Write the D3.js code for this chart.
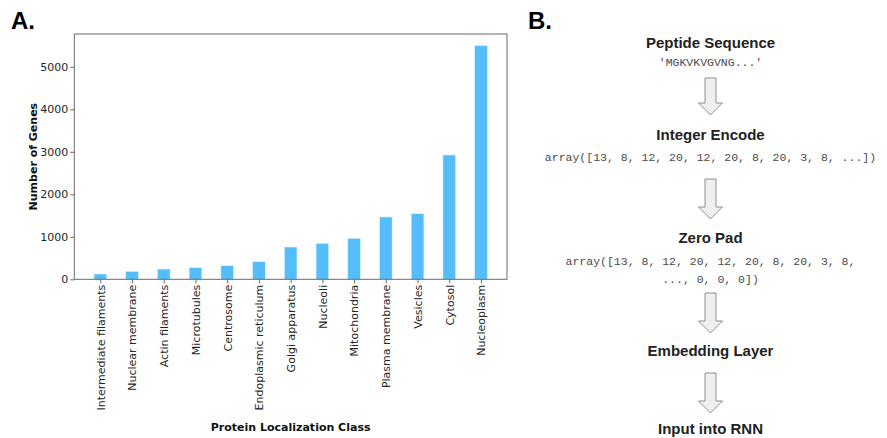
<!DOCTYPE html>
<html>
<head>
<meta charset="utf-8">
<script src="https://cdn.jsdelivr.net/npm/d3@7"></script>
<style>
  html, body { margin: 0; padding: 0; background: #fff; }
  svg { display: block; }
</style>
</head>
<body>
<svg id="fig" width="887" height="438"></svg>
<script>
// Gene counts per protein localization class
const categories = [
  "Intermediate filaments", "Nuclear membrane", "Actin filaments", "Microtubules",
  "Centrosome", "Endoplasmic reticulum", "Golgi apparatus", "Nucleoli",
  "Mitochondria", "Plasma membrane", "Vesicles", "Cytosol", "Nucleoplasm"
];
const geneCounts = [125, 188, 242, 273, 320, 414, 760, 847, 965, 1466, 1544, 2925, 5497];
const yTicks = [0, 1000, 2000, 3000, 4000, 5000];

// Preprocessing pipeline steps
const stepTitles = ["Peptide Sequence", "Integer Encode", "Zero Pad", "Embedding Layer", "Input into RNN"];
const stepDetails = [
  ["'MGKVKVGVNG...'"],
  ["array([13, 8, 12, 20, 12, 20, 8, 20, 3, 8, ...])"],
  ["array([13, 8, 12, 20, 12, 20, 8, 20, 3, 8,", "..., 0, 0, 0])"],
  [],
  []
];

const svg = d3.select("#fig");

// ---------- Panel A: bar chart ----------
const plot = { left: 74.3, right: 507, top: 34, bottom: 279.3 };
const barWidth = 0.4;
const n = categories.length;
const pad = (n - 1 + barWidth) * 0.05;

const x = d3.scaleLinear()
  .domain([-barWidth / 2 - pad, n - 1 + barWidth / 2 + pad])
  .range([plot.left, plot.right]);
const y = d3.scaleLinear()
  .domain([0, d3.max(geneCounts) * 1.05])
  .range([plot.bottom, plot.top]);

const gA = svg.append("g");

gA.selectAll("rect.bar")
  .data(geneCounts)
  .join("rect")
  .attr("class", "bar")
  .attr("x", (d, i) => x(i - barWidth / 2))
  .attr("width", (d, i) => x(i + barWidth / 2) - x(i - barWidth / 2))
  .attr("y", d => y(d))
  .attr("height", d => y(0) - y(d))
  .attr("fill", "#55bdf9")
  .attr("stroke", "#dff2fe")
  .attr("stroke-width", 0.6);

// frame
gA.append("rect")
  .attr("x", plot.left).attr("y", plot.top)
  .attr("width", plot.right - plot.left).attr("height", plot.bottom - plot.top)
  .attr("fill", "none").attr("stroke", "#6b6b6b").attr("stroke-width", 1);

const yAxis = d3.axisLeft(y).tickValues(yTicks).tickSize(4).tickPadding(2).tickFormat(d3.format("d"));
const gy = gA.append("g").attr("transform", `translate(${plot.left},0)`).call(yAxis);
gy.select(".domain").remove();
gy.selectAll("line").attr("stroke", "#6b6b6b");
gy.selectAll("text")
  .attr("font-family", "DejaVu Sans").attr("font-size", 11).attr("fill", "#262626");

const xAxis = d3.axisBottom(x).tickValues(d3.range(n)).tickSize(4).tickFormat(i => categories[i]);
const gx = gA.append("g").attr("transform", `translate(0,${plot.bottom})`).call(xAxis);
gx.select(".domain").remove();
gx.selectAll("line").attr("stroke", "#6b6b6b");
gx.selectAll("text")
  .attr("font-family", "DejaVu Sans").attr("font-size", 11).attr("fill", "#262626")
  .attr("transform", "rotate(-90)")
  .attr("text-anchor", "end")
  .attr("x", -5.5).attr("y", 0).attr("dy", "0.35em");

gA.append("text")
  .attr("transform", `translate(36.5,${(plot.top + plot.bottom) / 2}) rotate(-90)`)
  .attr("text-anchor", "middle")
  .attr("font-family", "DejaVu Sans").attr("font-weight", "bold").attr("font-size", 11)
  .attr("fill", "#111")
  .text("Number of Genes");

gA.append("text")
  .attr("x", (plot.left + plot.right) / 2).attr("y", 431)
  .attr("text-anchor", "middle")
  .attr("font-family", "DejaVu Sans").attr("font-weight", "bold").attr("font-size", 11)
  .attr("fill", "#111")
  .text("Protein Localization Class");

// panel letters
svg.append("text").attr("x", 11).attr("y", 29)
  .attr("font-family", "Liberation Sans, Arial, sans-serif").attr("font-weight", "bold")
  .attr("font-size", 24).attr("fill", "#000").text("A.");
svg.append("text").attr("x", 528).attr("y", 29)
  .attr("font-family", "Liberation Sans, Arial, sans-serif").attr("font-weight", "bold")
  .attr("font-size", 24).attr("fill", "#000").text("B.");

// ---------- Panel B: pipeline ----------
const cx = 710.5;
const titleBaselines = [48, 140, 243, 356, 434];
const detailBaselines = [[66], [161], [265, 283], [], []];
const arrowSpans = [[78, 115], [179, 219], [293, 333], [373, 413]];

const gB = svg.append("g");
stepTitles.forEach((t, i) => {
  gB.append("text")
    .attr("x", cx).attr("y", titleBaselines[i])
    .attr("text-anchor", "middle")
    .attr("font-family", "Liberation Sans, Arial, sans-serif").attr("font-weight", "bold")
    .attr("font-size", 15).attr("fill", "#222")
    .text(t);
  stepDetails[i].forEach((line, j) => {
    gB.append("text")
      .attr("x", cx).attr("y", detailBaselines[i][j])
      .attr("text-anchor", "middle")
      .attr("font-family", "Liberation Mono, Courier New, monospace")
      .attr("font-size", 11.5).attr("fill", "#4a4a4a")
      .attr("xml:space", "preserve")
      .text(line);
  });
});

// block arrows between steps
const shaftHalf = 5.5, headHalf = 12, headLen = 12;
arrowSpans.forEach(([top, tip]) => {
  const hs = tip - headLen;
  const pts = [
    [cx - shaftHalf, top], [cx + shaftHalf, top], [cx + shaftHalf, hs],
    [cx + headHalf, hs], [cx, tip], [cx - headHalf, hs], [cx - shaftHalf, hs]
  ];
  gB.append("path")
    .attr("d", d3.line()(pts) + "Z")
    .attr("fill", "#efefef").attr("stroke", "#8f8f8f").attr("stroke-width", 1)
    .attr("stroke-linejoin", "miter");
});
</script>
</body>
</html>
